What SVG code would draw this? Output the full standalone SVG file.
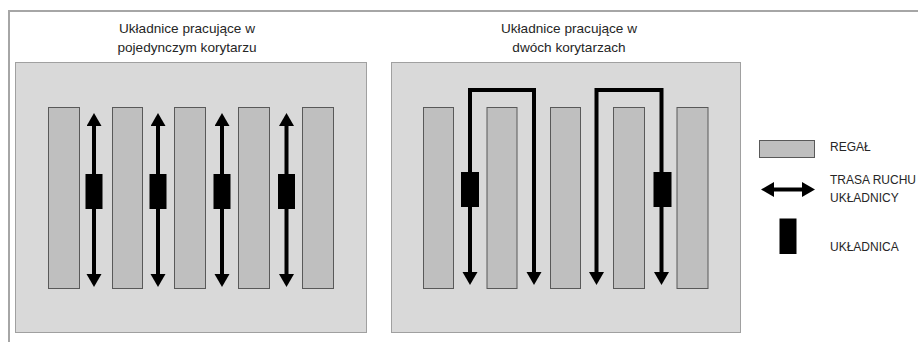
<svg xmlns="http://www.w3.org/2000/svg" width="918" height="342" viewBox="0 0 918 342">
<defs>
<marker id="ah" markerUnits="userSpaceOnUse" markerWidth="14" markerHeight="16" viewBox="0 0 14 16" refX="1" refY="7.5" orient="auto-start-reverse">
<path d="M0,0 L13,7.5 L0,15 z" fill="#000"/>
</marker>
</defs>
<style>
.frame{fill:none;stroke:#a6a6a6;stroke-width:2}
.panel{fill:#d9d9d9;stroke:#a0a0a0;stroke-width:1}
.rack{fill:#bfbfbf;stroke:#595959;stroke-width:1}
.blk{fill:#000}
.route{fill:none;stroke:#000;stroke-width:4;stroke-linejoin:miter;marker-start:url(#ah);marker-end:url(#ah)}
.title{font-family:"Liberation Sans",Arial,sans-serif;font-size:13.6px;fill:#262626;text-anchor:middle}
.leg{font-family:"Liberation Sans",Arial,sans-serif;font-size:12px;fill:#262626}
</style>
<rect width="918" height="342" fill="#fff"/>
<path class="frame" d="M9,342 V11 H918"/>

<g id="panel-left">
<rect class="panel" x="15.5" y="62.5" width="351" height="270"/>
<text class="title" x="187" y="33">Układnice pracujące w</text>
<text class="title" x="187" y="52">pojedynczym korytarzu</text>
</g>
<g id="panel-right">
<rect class="panel" x="391.5" y="62.5" width="349" height="270"/>
<text class="title" x="569" y="33">Układnice pracujące w</text>
<text class="title" x="569" y="52">dwóch korytarzach</text>
</g>

<g id="racks-left">
<rect class="rack" x="48.5" y="107.5" width="31" height="181"/>
<rect class="rack" x="112.5" y="107.5" width="30" height="181"/>
<rect class="rack" x="174.5" y="107.5" width="31" height="181"/>
<rect class="rack" x="238.5" y="107.5" width="31" height="181"/>
<rect class="rack" x="302.5" y="107.5" width="31" height="181"/>
</g>
<g id="racks-right">
<rect class="rack" x="423.5" y="107.5" width="30" height="181"/>
<rect class="rack" x="487" y="107.5" width="30" height="181"/>
<rect class="rack" x="550.5" y="107.5" width="30" height="181"/>
<rect class="rack" x="613.5" y="107.5" width="31" height="181"/>
<rect class="rack" x="677" y="107.5" width="31" height="181"/>
</g>

<g id="connectors">
<path class="route" d="M94,125 V275"/>
<path class="route" d="M158,125 V275"/>
<path class="route" d="M222,125 V275"/>
<path class="route" d="M286.5,125 V275"/>
<path class="route" d="M470,273 V90 H534 V273"/>
<path class="route" d="M596.5,273 V90 H661.5 V273"/>
<path class="route" d="M773,189.5 H803"/>
</g>

<g id="stackers">
<rect class="blk" x="85.5" y="174" width="17" height="35"/>
<rect class="blk" x="149.5" y="174" width="17" height="35"/>
<rect class="blk" x="213.5" y="174" width="17" height="35"/>
<rect class="blk" x="278" y="174" width="17" height="35"/>
<rect class="blk" x="461" y="172" width="18" height="35"/>
<rect class="blk" x="653.5" y="172" width="18" height="35"/>
</g>

<g id="legend">
<rect class="rack" x="759.5" y="140.5" width="55" height="17"/>
<text class="leg" x="830" y="151">REGAŁ</text>
<text class="leg" x="830" y="183.5">TRASA RUCHU</text>
<text class="leg" x="830" y="202">UKŁADNICY</text>
<rect class="blk" x="779.5" y="218.5" width="17" height="35.5"/>
<text class="leg" x="830" y="251">UKŁADNICA</text>
</g>
</svg>
